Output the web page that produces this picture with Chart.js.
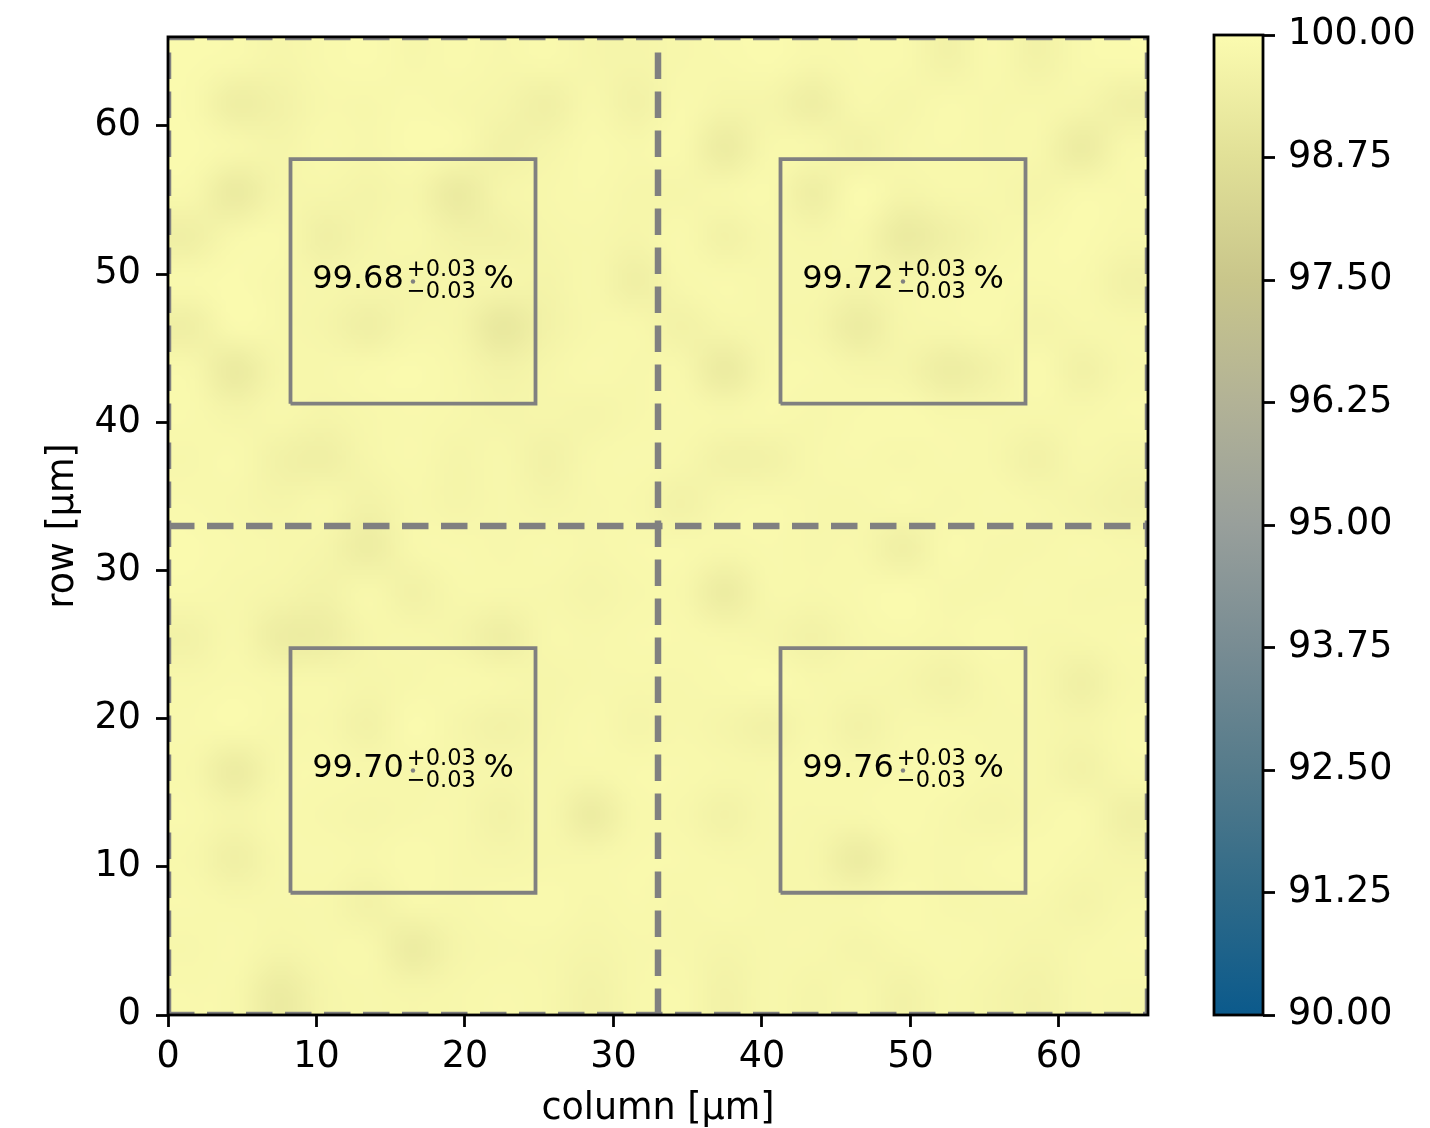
<!DOCTYPE html>
<html>
<head>
<meta charset="utf-8">
<script src="https://cdn.jsdelivr.net/npm/chart.js@4.4.1/dist/chart.umd.min.js"></script>
<style>
  html, body { margin: 0; padding: 0; background: #fff; width: 1430px; height: 1128px; overflow: hidden; }
  #main { position: absolute; left: 0; top: 0; }
  #cbar { position: absolute; left: 1190px; top: 0; }
</style>
</head>
<body>
<canvas id="main" width="1190" height="1128"></canvas>
<canvas id="cbar" width="240" height="1128"></canvas>
<script>
// ---- data ----------------------------------------------------------------
const xTicks = [0, 10, 20, 30, 40, 50, 60];
const yTicks = [0, 10, 20, 30, 40, 50, 60];
const cbTicks = [90, 91.25, 92.5, 93.75, 95, 96.25, 97.5, 98.75, 100];
const fieldSize = 66;          // µm, both directions
const splitLines = [0, 33, 66];

// map values [%], first row is the top (row = 66 µm), cells 3 µm wide
const heatRows = [
  [99.94,99.88,99.76,99.88,99.94,99.82,99.90,99.82,99.88,99.76,99.72,99.82,99.88,99.94,99.82,99.88,99.88,99.60,99.88,99.60,99.88,99.94],
  [99.90,99.44,99.58,99.82,99.82,99.90,99.82,99.72,99.50,99.82,99.58,99.88,99.72,99.72,99.44,99.82,99.76,99.88,99.82,99.82,99.76,99.50],
  [99.95,99.82,99.72,99.88,99.82,99.94,99.88,99.58,99.72,99.90,99.82,99.88,99.34,99.82,99.82,99.60,99.82,99.88,99.82,99.82,99.34,99.82],
  [99.82,99.28,99.72,99.76,99.68,99.76,99.28,99.72,99.82,99.88,99.76,99.76,99.82,99.88,99.44,99.94,99.72,99.82,99.82,99.72,99.88,99.88],
  [99.48,99.82,99.88,99.50,99.72,99.82,99.58,99.58,99.76,99.82,99.72,99.88,99.60,99.82,99.76,99.82,99.28,99.50,99.76,99.88,99.94,99.82],
  [99.88,99.94,99.82,99.76,99.76,99.72,99.76,99.76,99.68,99.82,99.48,99.82,99.88,99.82,99.82,99.72,99.76,99.82,99.88,99.88,99.88,99.58],
  [99.48,99.90,99.82,99.72,99.48,99.76,99.72,99.15,99.58,99.82,99.82,99.60,99.76,99.82,99.76,99.34,99.76,99.82,99.88,99.72,99.82,99.82],
  [99.82,99.28,99.76,99.82,99.88,99.94,99.82,99.60,99.76,99.88,99.82,99.82,99.30,99.82,99.88,99.76,99.72,99.38,99.60,99.92,99.58,99.82],
  [99.88,99.72,99.82,99.72,99.82,99.88,99.82,99.72,99.76,99.72,99.82,99.88,99.82,99.88,99.82,99.88,99.92,99.82,99.82,99.82,99.82,99.88],
  [99.82,99.88,99.58,99.48,99.76,99.88,99.72,99.82,99.58,99.82,99.88,99.82,99.58,99.60,99.82,99.88,99.82,99.88,99.82,99.58,99.82,99.72],
  [99.88,99.82,99.72,99.82,99.60,99.82,99.72,99.82,99.72,99.82,99.82,99.60,99.82,99.88,99.82,99.82,99.88,99.82,99.88,99.82,99.72,99.60],
  [99.94,99.88,99.82,99.72,99.38,99.82,99.88,99.82,99.88,99.82,99.88,99.88,99.82,99.88,99.82,99.82,99.50,99.88,99.82,99.82,99.88,99.82],
  [99.88,99.82,99.72,99.60,99.82,99.58,99.82,99.82,99.82,99.72,99.82,99.82,99.34,99.82,99.82,99.88,99.94,99.82,99.82,99.88,99.82,99.82],
  [99.60,99.82,99.38,99.38,99.76,99.82,99.72,99.44,99.82,99.82,99.88,99.88,99.82,99.76,99.60,99.82,99.88,99.82,99.92,99.82,99.82,99.88],
  [99.82,99.88,99.82,99.82,99.76,99.82,99.88,99.82,99.76,99.82,99.82,99.82,99.88,99.94,99.82,99.82,99.76,99.60,99.82,99.82,99.50,99.82],
  [99.88,99.92,99.82,99.82,99.60,99.94,99.76,99.60,99.76,99.88,99.72,99.82,99.72,99.58,99.82,99.60,99.82,99.82,99.82,99.82,99.72,99.88],
  [99.82,99.34,99.82,99.88,99.82,99.82,99.82,99.76,99.82,99.82,99.88,99.88,99.82,99.82,99.88,99.82,99.88,99.92,99.82,99.82,99.60,99.82],
  [99.88,99.72,99.88,99.82,99.76,99.82,99.82,99.60,99.82,99.34,99.82,99.82,99.60,99.82,99.82,99.82,99.92,99.82,99.72,99.82,99.88,99.50],
  [99.82,99.50,99.82,99.88,99.82,99.92,99.82,99.76,99.82,99.82,99.88,99.88,99.82,99.82,99.76,99.34,99.82,99.82,99.88,99.92,99.82,99.72],
  [99.88,99.82,99.82,99.82,99.60,99.82,99.82,99.88,99.92,99.82,99.88,99.82,99.88,99.82,99.82,99.82,99.92,99.82,99.82,99.82,99.68,99.82],
  [99.82,99.88,99.72,99.82,99.82,99.34,99.72,99.82,99.82,99.72,99.82,99.82,99.72,99.82,99.82,99.72,99.82,99.88,99.82,99.72,99.82,99.88],
  [99.88,99.82,99.30,99.72,99.82,99.76,99.82,99.88,99.82,99.60,99.82,99.88,99.60,99.82,99.72,99.82,99.60,99.82,99.72,99.60,99.82,99.82]
];

// evaluation boxes (µm) and their mean values
const boxX0 = [8.25, 41.25, 8.25, 41.25];
const boxY0 = [41.25, 41.25, 8.25, 8.25];
const boxSize = 16.5;
const boxMean = ['99.68', '99.72', '99.70', '99.76'];
const boxErrUp = ['0.03', '0.03', '0.03', '0.03'];
const boxErrDown = ['0.03', '0.03', '0.03', '0.03'];

// colour map: value -> colour
const cmapValues = [90, 91.25, 92.5, 93.75, 95, 96.25, 97.5, 98.75, 100];
const cmapColors = ['#0b5a8c', '#2f6a88', '#557b8b', '#788c93', '#989f9b', '#b2b296', '#c9c68b', '#e1e097', '#fbfbaf'];
const cmapMin = 90, cmapMax = 100;

// ---- helpers -------------------------------------------------------------
const FONT = '"DejaVu Sans", sans-serif';
const GREY = '#808080';

function hexRgb(h) {
  return [parseInt(h.slice(1, 3), 16), parseInt(h.slice(3, 5), 16), parseInt(h.slice(5, 7), 16)];
}
const cmapRgb = cmapColors.map(hexRgb);

function colourFor(v) {
  const n = cmapValues.length;
  if (v <= cmapValues[0]) return cmapRgb[0];
  if (v >= cmapValues[n - 1]) return cmapRgb[n - 1];
  for (let i = 0; i < n - 1; i++) {
    if (v <= cmapValues[i + 1]) {
      const t = (v - cmapValues[i]) / (cmapValues[i + 1] - cmapValues[i]);
      const a = cmapRgb[i], b = cmapRgb[i + 1];
      return [a[0] + (b[0] - a[0]) * t, a[1] + (b[1] - a[1]) * t, a[2] + (b[2] - a[2]) * t];
    }
  }
  return cmapRgb[n - 1];
}

function cubic(p0, p1, p2, p3, t) {
  return p1 + 0.5 * t * (p2 - p0 + t * (2 * p0 - 5 * p1 + 4 * p2 - p3 + t * (3 * (p1 - p2) + p3 - p0)));
}

// smooth raster of the map (bicubic resampling of the cells)
function buildRaster() {
  const rows = heatRows.length, cols = heatRows[0].length;
  const up = 10;
  const W = cols * up, H = rows * up;
  const cv = document.createElement('canvas');
  cv.width = W; cv.height = H;
  const c = cv.getContext('2d');
  const img = c.createImageData(W, H);
  const at = (r, k) => heatRows[Math.min(rows - 1, Math.max(0, r))][Math.min(cols - 1, Math.max(0, k))];
  for (let j = 0; j < H; j++) {
    const v = (j + 0.5) / up - 0.5;
    const r = Math.floor(v), tv = v - r;
    for (let i = 0; i < W; i++) {
      const u = (i + 0.5) / up - 0.5;
      const k = Math.floor(u), tu = u - k;
      const colv = [];
      for (let m = -1; m <= 2; m++) {
        colv.push(cubic(at(r + m, k - 1), at(r + m, k), at(r + m, k + 1), at(r + m, k + 2), tu));
      }
      const rgb = colourFor(cubic(colv[0], colv[1], colv[2], colv[3], tv));
      const p = (j * W + i) * 4;
      img.data[p] = rgb[0]; img.data[p + 1] = rgb[1]; img.data[p + 2] = rgb[2]; img.data[p + 3] = 255;
    }
  }
  c.putImageData(img, 0, 0);
  return cv;
}
const raster = buildRaster();

// ---- datasets -------------------------------------------------------------
const datasets = [];
splitLines.forEach(v => {
  datasets.push({ data: [{ x: 0, y: v }, { x: fieldSize, y: v }] });
  datasets.push({ data: [{ x: v, y: 0 }, { x: v, y: fieldSize }] });
});
datasets.forEach(d => Object.assign(d, {
  showLine: true, borderColor: GREY, borderWidth: 6.5, borderDash: [26.5, 12.5],
  pointRadius: 0, fill: false, clip: 0
}));
boxX0.forEach((x0, i) => {
  const y0 = boxY0[i], x1 = x0 + boxSize, y1 = y0 + boxSize;
  datasets.push({
    data: [{ x: x0, y: y0 }, { x: x1, y: y0 }, { x: x1, y: y1 }, { x: x0, y: y1 }, { x: x0, y: y0 }],
    showLine: true, borderColor: GREY, borderWidth: 3.8, pointRadius: 0, fill: false, clip: 0
  });
});
datasets.push({
  data: boxX0.map((x0, i) => ({ x: x0 + boxSize / 2, y: boxY0[i] + boxSize / 2 })),
  showLine: false, pointRadius: 2.2, pointBackgroundColor: GREY, pointBorderWidth: 0
});

// ---- plugins --------------------------------------------------------------
const heatPlugin = {
  id: 'heatmap',
  beforeDatasetsDraw(chart) {
    const { ctx, scales: { x, y } } = chart;
    const l = x.getPixelForValue(0), r = x.getPixelForValue(fieldSize);
    const t = y.getPixelForValue(fieldSize), b = y.getPixelForValue(0);
    ctx.save();
    ctx.imageSmoothingEnabled = true;
    ctx.imageSmoothingQuality = 'high';
    ctx.drawImage(raster, l, t, r - l, b - t);
    ctx.restore();
  },
  afterDatasetsDraw(chart) {
    const { ctx, chartArea, scales: { x, y } } = chart;
    const mainSize = 32, scriptSize = 22.5;
    boxX0.forEach((x0, i) => {
      const cx = x.getPixelForValue(x0 + boxSize / 2);
      const cy = y.getPixelForValue(boxY0[i] + boxSize / 2);
      const sup = '+' + boxErrUp[i], sub = '\u2212' + boxErrDown[i];
      ctx.save();
      ctx.fillStyle = '#000';
      ctx.textAlign = 'left';
      ctx.textBaseline = 'alphabetic';
      ctx.font = mainSize + 'px ' + FONT;
      const wMain = ctx.measureText(boxMean[i]).width;
      const wPct = ctx.measureText('%').width;
      const wSpace = ctx.measureText(' ').width * 0.75;
      ctx.font = scriptSize + 'px ' + FONT;
      const wScript = Math.max(ctx.measureText(sup).width, ctx.measureText(sub).width);
      const kern = 3;
      const total = wMain + kern + wScript + wSpace + wPct;
      let px = cx - total / 2;
      const base = cy + 0.19 * mainSize;
      ctx.font = mainSize + 'px ' + FONT;
      ctx.fillText(boxMean[i], px, base);
      px += wMain + kern;
      ctx.font = scriptSize + 'px ' + FONT;
      ctx.fillText(sup, px, base - 0.35 * mainSize);
      ctx.fillText(sub, px, base + 0.32 * mainSize);
      px += wScript + wSpace;
      ctx.font = mainSize + 'px ' + FONT;
      ctx.fillText('%', px, base);
      ctx.restore();
    });
    // axes frame
    ctx.save();
    ctx.strokeStyle = '#000';
    ctx.lineWidth = 2.8;
    ctx.strokeRect(chartArea.left, chartArea.top, chartArea.right - chartArea.left, chartArea.bottom - chartArea.top);
    ctx.restore();
  }
};

const tickFont = { family: FONT, size: 36.5 };
const titleFont = { family: FONT, size: 36.5, lineHeight: 1.0 };

new Chart(document.getElementById('main'), {
  type: 'scatter',
  data: { datasets },
  options: {
    responsive: false,
    animation: false,
    devicePixelRatio: 1,
    events: [],
    layout: { padding: { left: 0, right: 42, top: 35, bottom: 0 } },
    plugins: { legend: { display: false }, tooltip: { enabled: false } },
    scales: {
      x: {
        type: 'linear', min: 0, max: fieldSize,
        afterBuildTicks: s => { s.ticks = xTicks.map(v => ({ value: v })); },
        afterFit: s => { s.height = 113; },
        grid: { drawOnChartArea: false, drawTicks: true, tickLength: 12, tickWidth: 2.8, tickColor: '#000' },
        border: { display: false },
        ticks: { color: '#000', font: tickFont, padding: 9, maxRotation: 0, callback: v => String(v) },
        title: { display: true, text: 'column [µm]', color: '#000', font: titleFont, padding: { top: 0, bottom: 0 } }
      },
      y: {
        type: 'linear', min: 0, max: fieldSize,
        afterBuildTicks: s => { s.ticks = yTicks.map(v => ({ value: v })); },
        afterFit: s => { s.width = 168; },
        grid: { drawOnChartArea: false, drawTicks: true, tickLength: 12, tickWidth: 2.8, tickColor: '#000' },
        border: { display: false },
        ticks: { color: '#000', font: tickFont, padding: 15, callback: v => String(v) },
        title: { display: true, text: 'row [µm]', color: '#000', font: titleFont, padding: { top: 45, bottom: 0 } }
      }
    }
  },
  plugins: [heatPlugin]
});

// ---- colour bar -----------------------------------------------------------
const cbarPlugin = {
  id: 'cbarFill',
  beforeDatasetsDraw(chart) {
    const { ctx, chartArea, scales: { y } } = chart;
    const yLo = y.getPixelForValue(cmapMin), yHi = y.getPixelForValue(cmapMax);
    const g = ctx.createLinearGradient(0, yLo, 0, yHi);
    cmapValues.forEach((v, i) => g.addColorStop((v - cmapMin) / (cmapMax - cmapMin), cmapColors[i]));
    ctx.save();
    ctx.fillStyle = g;
    ctx.fillRect(chartArea.left, yHi, chartArea.right - chartArea.left, yLo - yHi);
    ctx.strokeStyle = '#000';
    ctx.lineWidth = 2.8;
    ctx.strokeRect(chartArea.left, yHi, chartArea.right - chartArea.left, yLo - yHi);
    ctx.restore();
  }
};

new Chart(document.getElementById('cbar'), {
  type: 'scatter',
  data: { datasets: [{ data: [] }] },
  options: {
    responsive: false,
    animation: false,
    devicePixelRatio: 1,
    events: [],
    layout: { padding: { left: 24, right: 0, top: 35, bottom: 113 } },
    plugins: { legend: { display: false }, tooltip: { enabled: false } },
    scales: {
      x: { type: 'linear', display: false, min: 0, max: 1 },
      y: {
        type: 'linear', position: 'right', min: cmapMin, max: cmapMax,
        afterBuildTicks: s => { s.ticks = cbTicks.map(v => ({ value: v })); },
        afterFit: s => { s.width = 167; },
        grid: { drawOnChartArea: false, drawTicks: true, tickLength: 12, tickWidth: 2.8, tickColor: '#000' },
        border: { display: false },
        ticks: { color: '#000', font: tickFont, padding: 13, callback: v => Number(v).toFixed(2) }
      }
    }
  },
  plugins: [cbarPlugin]
});
</script>
</body>
</html>
